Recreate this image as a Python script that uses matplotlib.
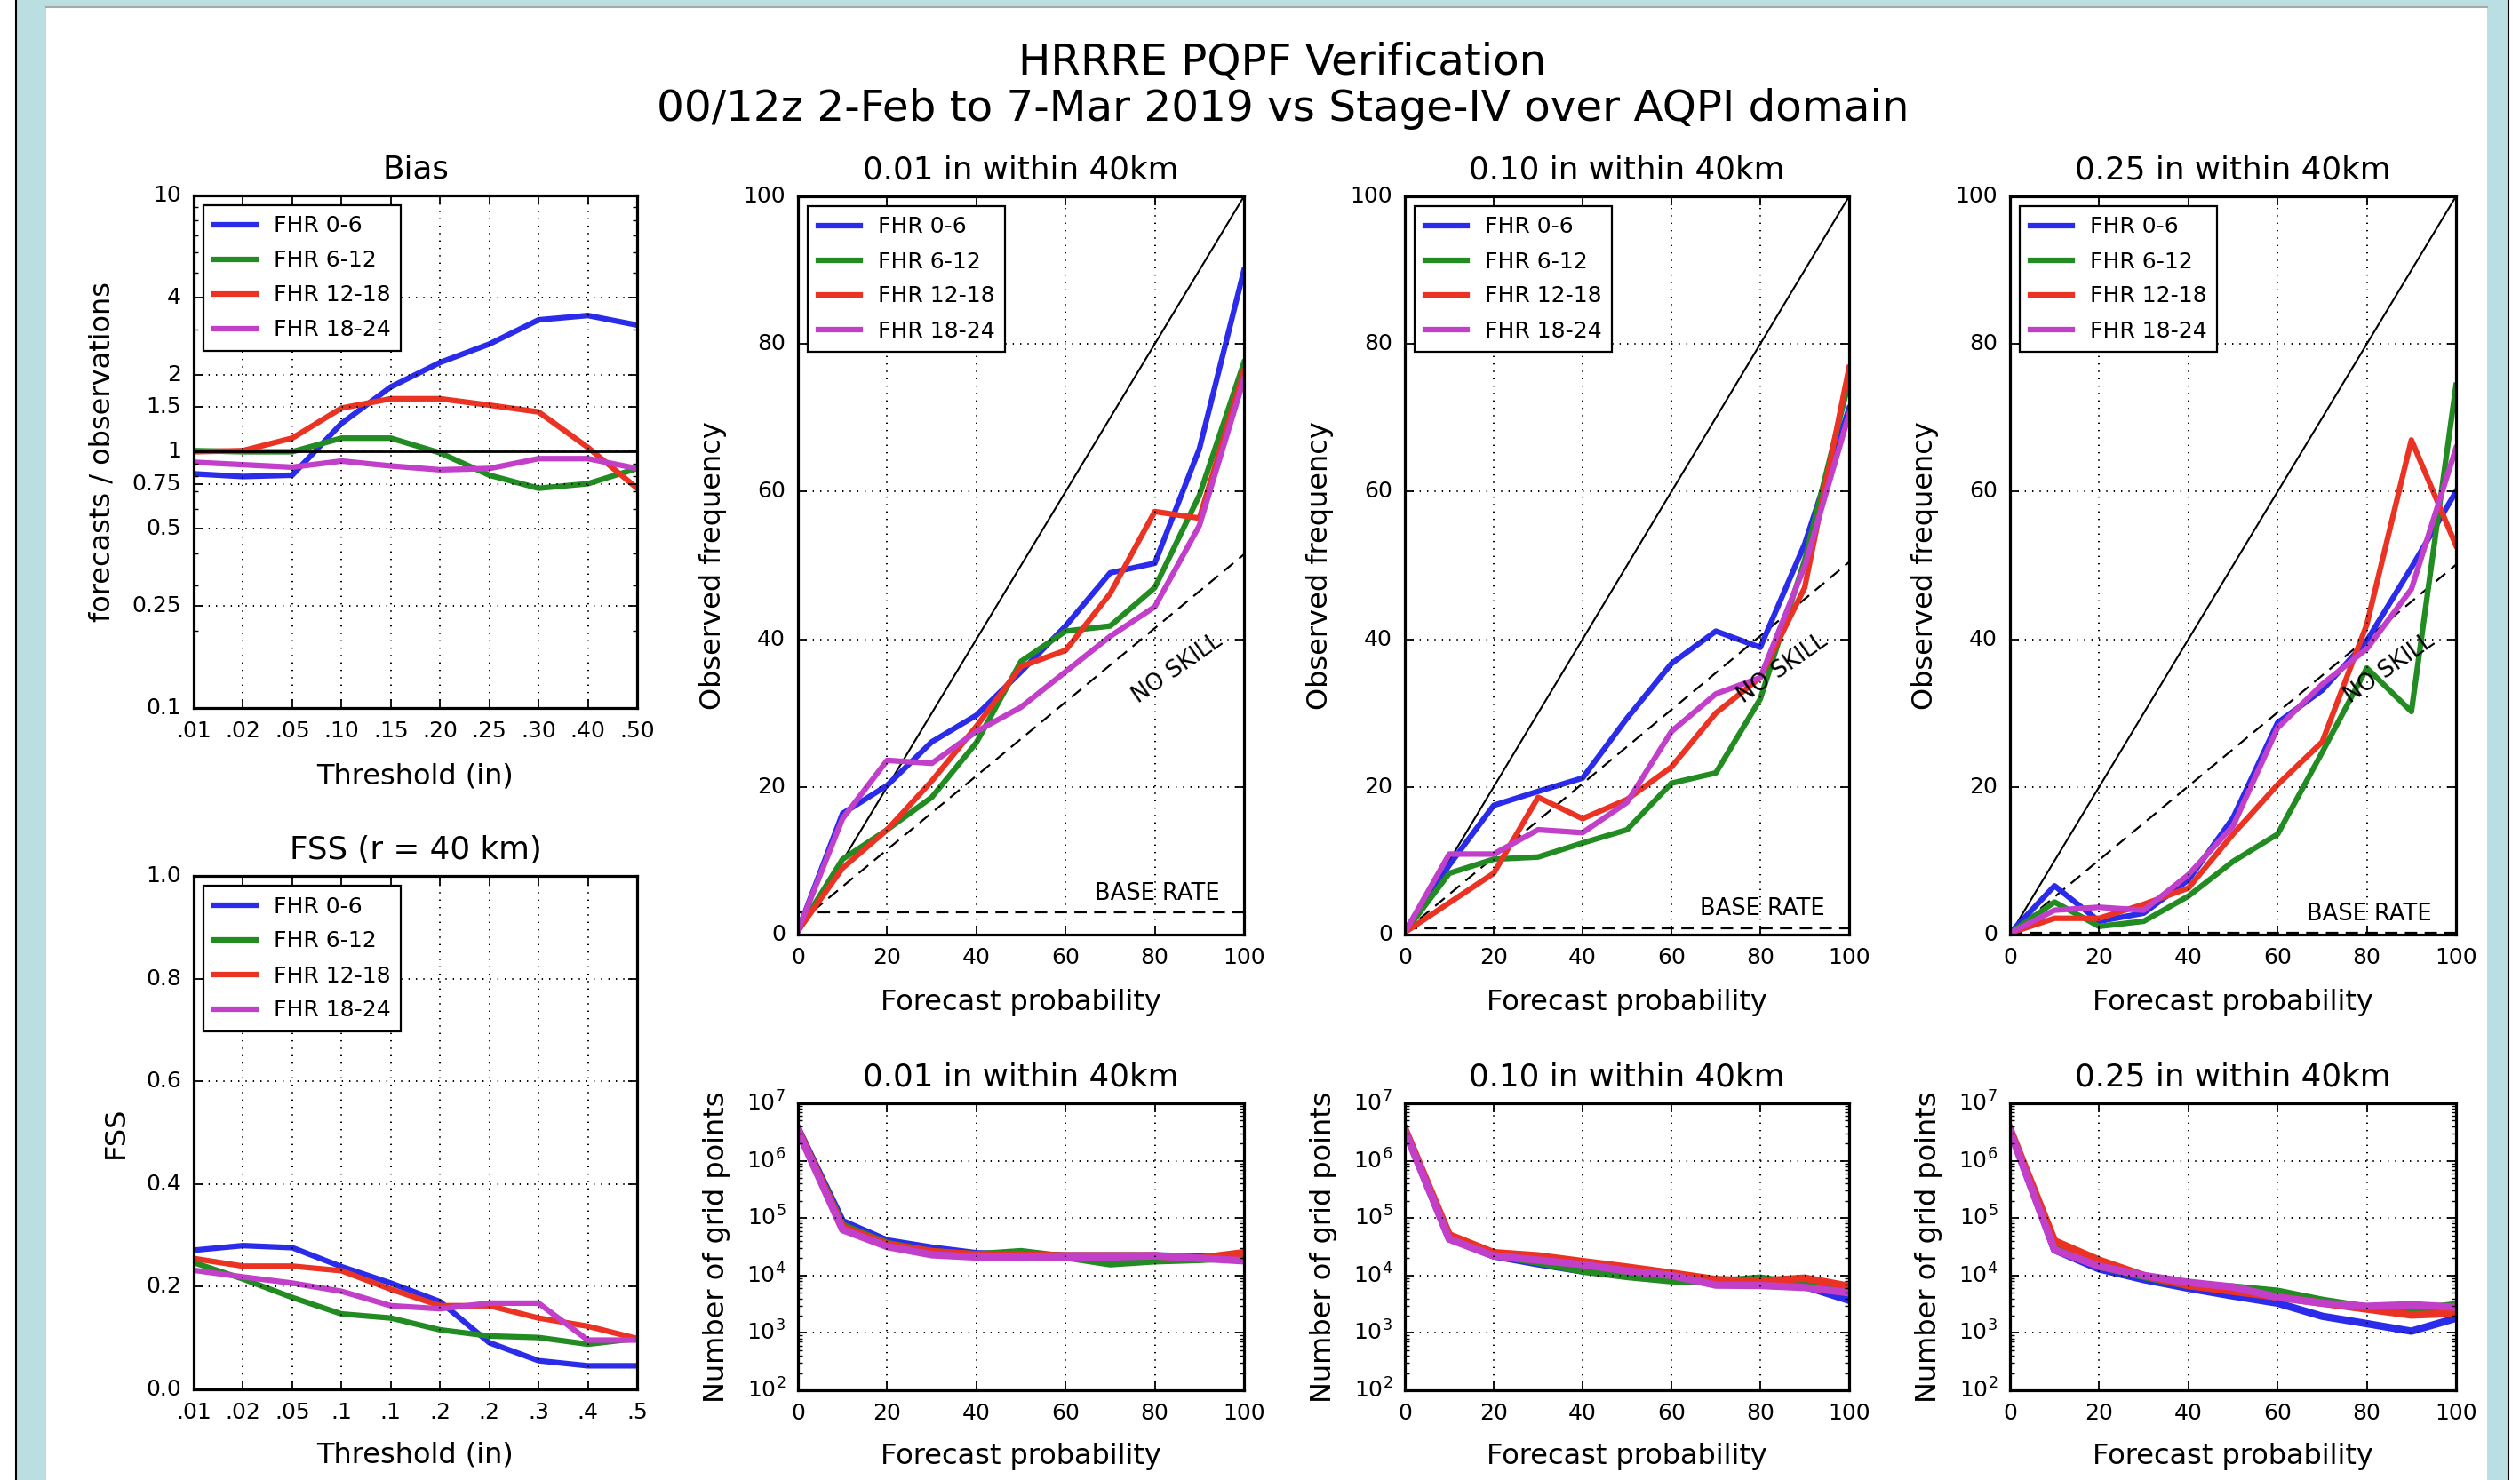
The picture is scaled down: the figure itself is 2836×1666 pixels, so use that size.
import matplotlib
matplotlib.use('Agg')
import matplotlib.pyplot as plt
from matplotlib.patches import Rectangle
from matplotlib.lines import Line2D

# ---- data ----
fhr_labels = ['FHR 0-6', 'FHR 6-12', 'FHR 12-18', 'FHR 18-24']
line_colors = ['#2b2bea', '#228b22', '#eb3323', '#c13fc9']

bias_thresh = ['.01', '.02', '.05', '.10', '.15', '.20', '.25', '.30', '.40', '.50']
fss_thresh = ['.01', '.02', '.05', '.1', '.1', '.2', '.2', '.3', '.4', '.5']

bias_vals = [
    [0.82, 0.80, 0.81, 1.29, 1.79, 2.23, 2.63, 3.27, 3.40, 3.12],
    [1.01, 1.00, 1.00, 1.13, 1.13, 0.99, 0.81, 0.72, 0.75, 0.86],
    [1.00, 1.01, 1.13, 1.48, 1.61, 1.61, 1.52, 1.43, 1.04, 0.72],
    [0.91, 0.89, 0.87, 0.92, 0.88, 0.85, 0.86, 0.94, 0.94, 0.86],
]

fss_vals = [
    [0.271, 0.280, 0.276, 0.239, 0.207, 0.171, 0.091, 0.056, 0.046, 0.046],
    [0.247, 0.215, 0.179, 0.147, 0.139, 0.116, 0.104, 0.101, 0.088, 0.099],
    [0.255, 0.240, 0.240, 0.231, 0.195, 0.163, 0.163, 0.139, 0.123, 0.099],
    [0.232, 0.219, 0.207, 0.191, 0.163, 0.157, 0.168, 0.168, 0.096, 0.096],
]

prob = [0, 10, 20, 30, 40, 50, 60, 70, 80, 90, 100]
panel_titles = ['0.01 in within 40km', '0.10 in within 40km', '0.25 in within 40km']
base_rates = [3.0, 0.9, 0.2]

rel_001 = [
    [0.5, 16.4, 20.2, 26.1, 29.7, 35.6, 41.8, 49.0, 50.3, 65.8, 90.0],
    [0.5, 10.2, 14.2, 18.6, 26.0, 37.0, 41.1, 41.8, 47.0, 59.5, 77.5],
    [0.5, 9.0, 14.2, 20.8, 28.2, 36.3, 38.5, 46.2, 57.3, 56.4, 76.4],
    [0.5, 15.7, 23.6, 23.2, 27.5, 30.8, 35.6, 40.4, 44.4, 55.4, 75.3],
]
rel_010 = [
    [0.5, 9.4, 17.5, 19.4, 21.2, 29.3, 36.7, 41.1, 38.9, 52.9, 71.3],
    [0.3, 8.3, 10.2, 10.5, 12.4, 14.2, 20.5, 21.9, 31.9, 50.7, 75.0],
    [0.3, 4.3, 8.3, 18.6, 15.7, 18.3, 22.7, 30.0, 34.8, 47.0, 76.8],
    [0.3, 10.9, 10.9, 14.2, 13.8, 17.9, 27.5, 32.6, 34.8, 49.9, 70.5],
]
rel_025 = [
    [0.2, 6.6, 1.8, 2.9, 7.4, 15.8, 28.7, 33.1, 39.8, 49.7, 60.0],
    [0.2, 4.4, 1.1, 1.8, 5.2, 9.9, 13.6, 24.7, 36.1, 30.2, 74.4],
    [0.2, 2.2, 2.2, 4.1, 6.3, 13.6, 20.3, 26.1, 42.0, 67.0, 52.7],
    [0.2, 3.3, 3.7, 3.3, 8.1, 14.7, 28.0, 33.9, 38.7, 46.8, 65.9],
]

cnt_001 = [
    [3.6e6, 8.7e4, 4.0e4, 3.0e4, 2.4e4, 2.3e4, 2.2e4, 2.2e4, 2.2e4, 2.1e4, 1.9e4],
    [3.4e6, 7.5e4, 3.6e4, 2.6e4, 2.3e4, 2.6e4, 2.1e4, 1.6e4, 1.8e4, 1.9e4, 2.1e4],
    [3.5e6, 7.0e4, 3.5e4, 2.6e4, 2.3e4, 2.3e4, 2.2e4, 2.2e4, 2.2e4, 2.0e4, 2.5e4],
    [3.3e6, 6.3e4, 3.2e4, 2.3e4, 2.1e4, 2.1e4, 2.1e4, 2.1e4, 2.2e4, 2.0e4, 1.8e4],
]
cnt_010 = [
    [3.5e6, 4.4e4, 2.2e4, 1.6e4, 1.2e4, 1.0e4, 9.0e3, 7.3e3, 7.3e3, 6.5e3, 3.7e3],
    [3.4e6, 4.5e4, 2.3e4, 1.7e4, 1.2e4, 9.6e3, 8.1e3, 7.8e3, 9.0e3, 7.0e3, 5.6e3],
    [3.6e6, 5.1e4, 2.5e4, 2.2e4, 1.75e4, 1.4e4, 1.1e4, 8.5e3, 8.0e3, 9.0e3, 6.5e3],
    [3.3e6, 4.3e4, 2.2e4, 1.85e4, 1.55e4, 1.2e4, 1.0e4, 6.8e3, 6.7e3, 6.2e3, 5.0e3],
]
cnt_025 = [
    [3.5e6, 2.8e4, 1.3e4, 8.5e3, 6.0e3, 4.4e3, 3.3e3, 1.95e3, 1.45e3, 1.07e3, 1.8e3],
    [3.4e6, 3.2e4, 1.45e4, 9.6e3, 6.7e3, 6.3e3, 5.3e3, 3.7e3, 2.8e3, 2.5e3, 3.1e3],
    [3.6e6, 4.0e4, 1.85e4, 1.0e4, 6.7e3, 5.3e3, 4.2e3, 3.3e3, 2.6e3, 2.05e3, 2.2e3],
    [3.3e6, 2.8e4, 1.45e4, 1.0e4, 7.6e3, 6.3e3, 4.2e3, 3.3e3, 2.9e3, 3.1e3, 2.8e3],
]

# ---- style (old matplotlib look) ----
plt.style.use('classic')
plt.rcParams.update({
    'font.family': ['DejaVu Sans'],
    'mathtext.fontset': 'dejavusans',
    'font.size': 18,
    'axes.titlesize': 25.7,
    'axes.labelsize': 23,
    'axes.linewidth': 2.3,
    'axes.labelpad': 13,
    'axes.titlepad': 14,
    'xtick.labelsize': 18,
    'ytick.labelsize': 18,
    'xtick.major.size': 7,
    'ytick.major.size': 7,
    'xtick.minor.size': 3.5,
    'ytick.minor.size': 3.5,
    'xtick.major.width': 1.3,
    'ytick.major.width': 1.3,
    'xtick.minor.width': 1.0,
    'ytick.minor.width': 1.0,
    'xtick.major.pad': 10,
    'ytick.major.pad': 10,
    'grid.linestyle': (0, (1, 5)),
    'grid.color': 'k',
    'grid.linewidth': 1.4,
    'legend.fontsize': 18,
    'legend.frameon': True,
    'legend.fancybox': False,
    'legend.numpoints': 1,
})

W, H = 2836, 1666
fig = plt.figure(figsize=(W / 100, H / 100), dpi=100, facecolor='white')

# page background around the figure (screenshot frame)
fig.add_artist(Rectangle((19 / W, 0), (2822 - 19) / W, 1, transform=fig.transFigure,
                         facecolor='#b9dfe3', edgecolor='none', zorder=-10))
fig.add_artist(Rectangle((52 / W, 0), (2799 - 52) / W, (H - 9) / H, transform=fig.transFigure,
                         facecolor='white', edgecolor='none', zorder=-9))
fig.add_artist(Line2D([52 / W, 2799 / W], [(H - 8) / H] * 2, transform=fig.transFigure,
                      color='#a8a8a8', lw=1.5, zorder=-8))
for xl in (18, 2823):
    fig.add_artist(Line2D([xl / W, xl / W], [0, 1], transform=fig.transFigure,
                          color='black', lw=1.5, zorder=-8))


def px_axes(x0, x1, y0, y1):
    # axes from pixel box (y from top)
    return fig.add_axes([x0 / W, (H - y1) / H, (x1 - x0) / W, (y1 - y0) / H])


def add_legend(ax):
    leg = ax.legend(loc='upper left', handlelength=1.9, handletextpad=0.8,
                    labelspacing=0.6, borderpad=0.45, borderaxespad=0.45)
    leg.get_frame().set_linewidth(1.6)
    leg.get_frame().set_edgecolor('black')


fig.suptitle('HRRRE PQPF Verification\n00/12z 2-Feb to 7-Mar 2019 vs Stage-IV over AQPI domain',
             x=0.509, y=0.972, fontsize=34.8, linespacing=1.15, va='top')

REL_LW = 4.5
CNT_LW = 6

# ---- Bias ----
ax = px_axes(218, 717, 220, 797)
xi = list(range(len(bias_thresh)))
for vals, c, lab in zip(bias_vals, line_colors, fhr_labels):
    ax.plot(xi, vals, color=c, lw=REL_LW, label=lab)
ax.axhline(1.0, color='black', lw=2)
ax.set_yscale('log')
ax.set_ylim(0.1, 10)
ax.set_yticks([0.1, 0.25, 0.5, 0.75, 1, 1.5, 2, 4, 10])
ax.set_yticklabels(['0.1', '0.25', '0.5', '0.75', '1', '1.5', '2', '4', '10'])
ax.set_xlim(0, 9)
ax.set_xticks(xi)
ax.set_xticklabels(bias_thresh)
ax.grid(True, which='major')
ax.set_title('Bias')
ax.set_xlabel('Threshold (in)', labelpad=17)
ax.set_ylabel('forecasts / observations')
add_legend(ax)

# ---- FSS ----
ax = px_axes(218, 717, 986, 1564)
for vals, c, lab in zip(fss_vals, line_colors, fhr_labels):
    ax.plot(xi, vals, color=c, lw=REL_LW, label=lab)
ax.set_ylim(0, 1.0)
ax.set_yticks([0.0, 0.2, 0.4, 0.6, 0.8, 1.0])
ax.set_xlim(0, 9)
ax.set_xticks(xi)
ax.set_xticklabels(fss_thresh)
ax.grid(True)
ax.set_title('FSS (r = 40 km)')
ax.set_xlabel('Threshold (in)', labelpad=15)
ax.set_ylabel('FSS')
add_legend(ax)

# ---- reliability + sample counts ----
col_x = [(898, 1400), (1581, 2081), (2262, 2764)]
rel_all = [rel_001, rel_010, rel_025]
cnt_all = [cnt_001, cnt_010, cnt_025]

for (x0, x1), title, base, rel, cnt in zip(col_x, panel_titles, base_rates, rel_all, cnt_all):
    ax = px_axes(x0, x1, 221, 1052)
    ax.plot([0, 100], [0, 100], color='black', lw=1.5)
    ax.plot([0, 100], [base / 2, (100 + base) / 2], color='black', lw=1.6, dashes=(10, 6))
    ax.plot([0, 100], [base, base], color='black', lw=1.6, dashes=(10, 6))
    for vals, c, lab in zip(rel, line_colors, fhr_labels):
        ax.plot(prob, vals, color=c, lw=REL_LW, label=lab)
    ax.text(85, 36, 'NO SKILL', rotation=35, ha='center', va='center', fontsize=18.5,
            rotation_mode='anchor')
    ax.text(80.5, base + 1.0, 'BASE RATE', ha='center', va='bottom', fontsize=18.5)
    ax.set_xlim(0, 100)
    ax.set_ylim(0, 100)
    ax.set_xticks(range(0, 101, 20))
    ax.set_yticks(range(0, 101, 20))
    ax.grid(True)
    ax.set_title(title)
    ax.set_xlabel('Forecast probability', labelpad=17)
    ax.set_ylabel('Observed frequency')
    add_legend(ax)

    ax = px_axes(x0, x1, 1242, 1565)
    for vals, c in zip(cnt, line_colors):
        ax.plot(prob, vals, color=c, lw=CNT_LW)
    ax.set_yscale('log')
    ax.set_ylim(1e2, 1e7)
    ax.set_xlim(0, 100)
    ax.set_xticks(range(0, 101, 20))
    ax.grid(True, which='major')
    ax.set_title(title)
    ax.set_xlabel('Forecast probability', labelpad=15)
    ax.set_ylabel('Number of grid points')

fig.savefig('out.png', dpi=100, facecolor=fig.get_facecolor())
